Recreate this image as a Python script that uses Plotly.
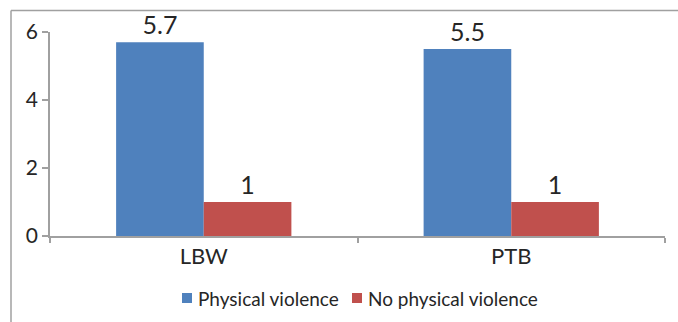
import plotly.graph_objects as go

# Outcome categories and odds values per exposure group
categories = ["LBW", "PTB"]
physical_violence = [5.7, 5.5]
no_physical_violence = [1, 1]
series_names = ["Physical violence", "No physical violence"]

BLUE = "#4F81BD"
RED = "#C0504D"
GRAY = "#A0A0A0"
TEXT = "#262626"
FONT = "Lato"

W, H = 678, 322
ML, MR, MT, MB = 50, 13, 32, 86
PW, PH = W - ML - MR, H - MT - MB

# pixel -> paper coordinate helpers
px = lambda x: (x - ML) / PW
py = lambda y: 1 - (y - MT) / PH

fig = go.Figure()
for name, vals, color in zip(series_names, [physical_violence, no_physical_violence], [BLUE, RED]):
    fig.add_trace(go.Bar(
        name=name, x=categories, y=vals,
        marker=dict(color=color, line=dict(width=0)),
        text=[f"{v:g}" for v in vals], textposition="outside",
        textfont=dict(size=25, color=TEXT, family=FONT), cliponaxis=False,
        showlegend=False,
    ))

# Outer frame of the chart area (left and top edges)
fig.add_shape(type="line", xref="paper", yref="paper",
              x0=px(11), x1=px(11), y0=py(10.5), y1=py(330),
              line=dict(color=GRAY, width=1.5))
fig.add_shape(type="line", xref="paper", yref="paper",
              x0=px(11), x1=px(690), y0=py(10.5), y1=py(10.5),
              line=dict(color=GRAY, width=1.5))

# Compact legend: square swatch followed by the series name
legend_x = [182, 352]
for lx, name, color in zip(legend_x, series_names, [BLUE, RED]):
    fig.add_shape(type="rect", xref="paper", yref="paper",
                  x0=px(lx), x1=px(lx + 10), y0=py(303), y1=py(293),
                  fillcolor=color, line=dict(width=0))
    fig.add_annotation(xref="paper", yref="paper", x=px(lx + 14), y=py(298),
                       xanchor="left", yanchor="middle", showarrow=False,
                       text=name, font=dict(size=19, family=FONT, color=TEXT))

fig.update_layout(
    width=W, height=H,
    margin=dict(l=ML, r=MR, t=MT, b=MB, autoexpand=False),
    paper_bgcolor="white", plot_bgcolor="white",
    barmode="group", bargap=0.43, bargroupgap=0,
    font=dict(family=FONT, color=TEXT),
    showlegend=False,
    xaxis=dict(
        showline=True, linecolor=GRAY, linewidth=1.5,
        ticks="outside", tickson="boundaries", ticklen=5, tickcolor=GRAY, tickwidth=1.5,
        tickfont=dict(size=22, family=FONT, color=TEXT),
        showgrid=False, zeroline=False,
    ),
    yaxis=dict(
        range=[0, 6], tickvals=[0, 2, 4, 6],
        showline=True, linecolor=GRAY, linewidth=1.5,
        ticks="outside", ticklen=6, tickcolor=GRAY, tickwidth=1.5,
        tickfont=dict(size=21, family=FONT, color=TEXT),
        showgrid=False, zeroline=False,
    ),
)

fig.write_html("out.html")
